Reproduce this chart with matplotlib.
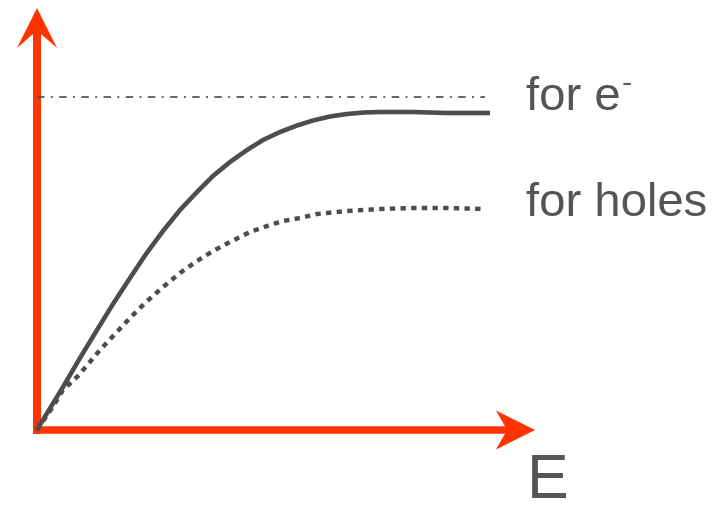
import matplotlib
matplotlib.use("Agg")
import matplotlib.pyplot as plt

# Data (drift velocity vs field, arbitrary units)
E_e = [0, 1, 26, 43, 60, 76, 93, 109, 126, 143, 160, 176, 193, 210, 226, 243,
       260, 276, 293, 310, 327, 343, 376, 410, 453]
v_e = [0, 2, 43, 72, 100, 126, 152, 176, 199, 220, 238, 254, 268, 280, 290, 298,
       304.5, 309.5, 313.5, 316, 317.5, 318, 318, 317, 317]
E_h = [0, 15, 26, 41, 63, 78, 93, 108, 126, 143, 160, 176, 193, 213, 233, 246,
       263, 280, 310, 343, 376, 410, 448]
v_h = [0, 22, 40, 54, 80, 96, 112, 127, 143, 157, 169, 179, 188, 198, 205, 209,
       212, 216, 219, 221, 222, 222, 221]
v_sat = 333
E_sat_end = 448
labels = ["for e", "for holes"]
axis_label = "E"

plt.rcParams['font.family'] = ['Liberation Sans', 'DejaVu Sans']

fig = plt.figure(figsize=(7.25, 5.07), dpi=100)
ax = fig.add_axes([0, 0, 1, 1])
ax.set_xlim(-37, 688)
ax.set_ylim(-77, 430)
ax.axis('off')

red = '#ff3300'
gray = '#4d4d4d'
tcol = '#555555'

# axes arrows
ax.arrow(0, -4, 0, 426, width=8, head_width=40, head_length=40, overhang=0.35,
         length_includes_head=True, color=red, lw=0, zorder=2)
ax.arrow(-4, 0, 502, 0, width=7.5, head_width=39, head_length=39, overhang=0.23,
         length_includes_head=True, color=red, lw=0, zorder=2)

# saturation reference line
ax.plot([0, E_sat_end], [v_sat, v_sat], color=gray, lw=1.2,
        linestyle=(0, (4.5, 3.8, 1.2, 3.8)), zorder=3)

# curves
ax.plot(E_e, v_e, color=gray, lw=3.3, solid_joinstyle='round',
        solid_capstyle='butt', zorder=4)
ax.plot(E_h, v_h, color=gray, lw=3.2, linestyle=(0, (1.2, 1.2)),
        dash_joinstyle='round', zorder=4)

# labels
t1 = ax.text(489, 320, labels[0], fontsize=34, color=tcol, va='baseline', ha='left')
ax.text(489, 214, labels[1], fontsize=34, color=tcol, va='baseline', ha='left')
ax.text(490, -68, axis_label, fontsize=45, color=tcol, va='baseline', ha='left')

fig.canvas.draw()
bb = t1.get_window_extent()
inv = ax.transData.inverted()
x_end, _ = inv.transform((bb.x1, bb.y0))
ax.text(x_end + 1, 338, "-", fontsize=22, color=tcol, va='baseline', ha='left')

fig.savefig("out.png", dpi=100)
